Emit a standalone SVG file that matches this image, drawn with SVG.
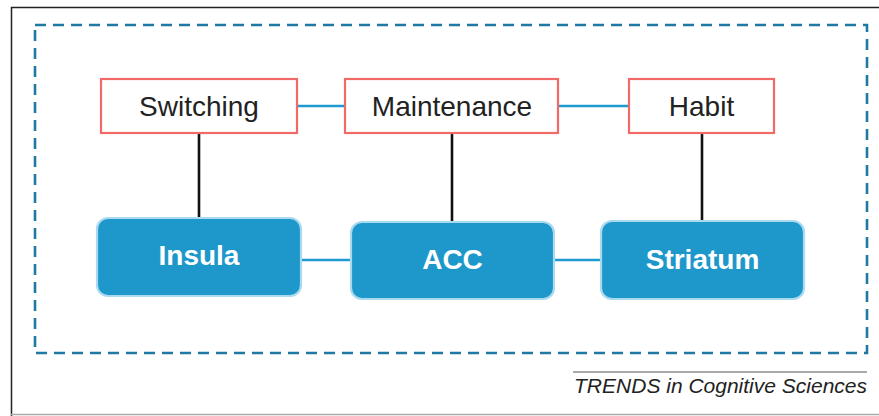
<svg xmlns="http://www.w3.org/2000/svg" width="879" height="416" viewBox="0 0 879 416">
<style>
.frame{fill:none;stroke:#222;stroke-width:1.5}
.dash{fill:none;stroke:#1f7aa3;stroke-width:2.6;stroke-dasharray:11 7}
.fn{fill:#fff;stroke:#f06a68;stroke-width:2.2}
.region{fill:#1e98cb;stroke:#a9daf0;stroke-width:2.2}
.ft{font-family:"Liberation Sans",Arial,sans-serif;font-size:28px;fill:#222;text-anchor:middle}
.rt{font-family:"Liberation Sans",Arial,sans-serif;font-size:28px;font-weight:bold;fill:#fff;text-anchor:middle}
.blue{stroke:#1e9ad0;stroke-width:2.6;fill:none}
.black{stroke:#111;stroke-width:2.6;fill:none}
</style>
<rect width="879" height="416" fill="#fff"/>
<path class="frame" d="M11.5,416 V7.5 H879"/>
<line x1="11" y1="414.5" x2="879" y2="414.5" stroke="#aaa" stroke-width="1.5"/>
<rect class="dash" x="35" y="25" width="832" height="328"/>
<g id="connectors">
<line class="blue" x1="297" y1="106" x2="345" y2="106"/>
<line class="blue" x1="558" y1="106" x2="629" y2="106"/>
<line class="blue" x1="301" y1="260" x2="351" y2="260"/>
<line class="blue" x1="554" y1="260" x2="601" y2="260"/>
<line class="black" x1="199" y1="133" x2="199" y2="218"/>
<line class="black" x1="452" y1="133" x2="452" y2="222"/>
<line class="black" x1="702" y1="133" x2="702" y2="221"/>
</g>
<g id="switching">
<rect class="fn" x="101" y="79" width="196" height="54"/>
<text class="ft" x="199" y="116">Switching</text>
</g>
<g id="maintenance">
<rect class="fn" x="345" y="79" width="213" height="54"/>
<text class="ft" x="452" y="116">Maintenance</text>
</g>
<g id="habit">
<rect class="fn" x="629" y="79" width="145" height="54"/>
<text class="ft" x="701.5" y="116">Habit</text>
</g>
<g id="insula">
<rect class="region" x="97" y="218" width="204" height="78" rx="11"/>
<text class="rt" x="199" y="265">Insula</text>
</g>
<g id="acc">
<rect class="region" x="351" y="222" width="203" height="77" rx="11"/>
<text class="rt" x="452.5" y="269">ACC</text>
</g>
<g id="striatum">
<rect class="region" x="601" y="221" width="203" height="78" rx="11"/>
<text class="rt" x="702.5" y="269">Striatum</text>
</g>
<line x1="573" y1="372" x2="867" y2="372" stroke="#555" stroke-width="1.2"/>
<text x="867" y="393" font-family="'Liberation Sans',Arial,sans-serif" font-size="21" font-style="italic" fill="#222" text-anchor="end">TRENDS in Cognitive Sciences</text>
</svg>
